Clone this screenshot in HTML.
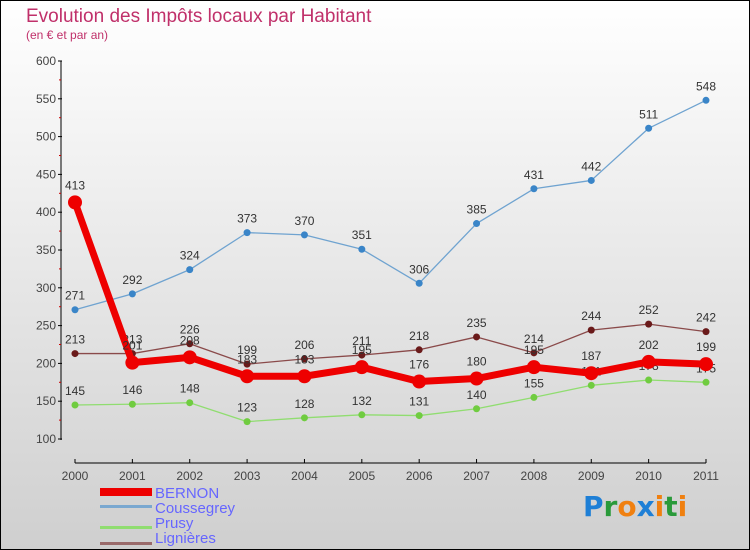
<!DOCTYPE html>
<html><head><meta charset="utf-8"><style>
body{margin:0}
svg{display:block;font-family:"Liberation Sans",sans-serif}
</style></head><body>
<svg id="c" width="750" height="550" xmlns="http://www.w3.org/2000/svg">
<defs><linearGradient id="bg" x1="0" y1="0" x2="0" y2="1"><stop offset="0" stop-color="#ffffff"/><stop offset="1" stop-color="#cfcfcf"/></linearGradient></defs>
<rect x="0.5" y="0.5" width="749" height="549" fill="url(#bg)" stroke="#000"/>
<text x="26" y="22" font-size="19" fill="#c0306a">Evolution des Impôts locaux par Habitant</text>
<text x="26" y="39" font-size="12" fill="#c0306a">(en € et par an)</text>
<g id="axes"></g>
<g id="series"></g>
<g>
<rect x="100" y="488" width="52" height="8" fill="#e00"/>
<text x="155" y="498" font-size="15" fill="#6666ff">BERNON</text>
<rect x="100" y="505" width="52" height="3" fill="#7aa8d0"/>
<text x="155" y="513" font-size="15" fill="#6666ff">Coussegrey</text>
<rect x="100" y="526" width="52" height="3" fill="#90dd70"/>
<text x="155" y="528" font-size="15" fill="#6666ff">Prusy</text>
<rect x="100" y="542" width="52" height="3" fill="#9a6a6a"/>
<text x="155" y="543" font-size="15" fill="#6666ff">Lignières</text>
</g>
<g font-size="28" font-weight="bold" font-family="'DejaVu Sans',sans-serif">
<text x="583" y="516"><tspan fill="#1e7fd6">P</tspan><tspan fill="#2a9a3a">r</tspan><tspan fill="#f08010">o</tspan><tspan fill="#1e7fd6">x</tspan><tspan fill="#f08010">i</tspan><tspan fill="#2a9a3a">t</tspan><tspan fill="#f08010">i</tspan></text>
</g>
</svg>
<script>
const years=["2000","2001","2002","2003","2004","2005","2006","2007","2008","2009","2010","2011"];
const yTicks=[100,150,200,250,300,350,400,450,500,550,600];
const bernon=[413,201,208,183,183,195,176,180,195,187,202,199];
const coussegrey=[271,292,324,373,370,351,306,385,431,442,511,548];
const prusy=[145,146,148,123,128,132,131,140,155,171,178,175];
const lignieres=[213,213,226,199,206,211,218,235,214,244,252,242];
const NS="http://www.w3.org/2000/svg";
function xS(i){return 75+i*(706-75)/11;}
function yS(v){return 439-(v-100)*(439-61)/500;}
function mk(t,a,p){const e=document.createElementNS(NS,t);for(const k in a)e.setAttribute(k,a[k]);p.appendChild(e);return e;}
const ax=document.getElementById('axes');
let l=mk('line',{x1:61,y1:61,x2:61,y2:440,stroke:'#000','stroke-width':1},ax);


yTicks.forEach(v=>{
  mk('line',{x1:58,y1:yS(v),x2:62,y2:yS(v),stroke:'#000'},ax);
  const t=mk('text',{x:56,y:yS(v)+4,'font-size':12,fill:'#444','text-anchor':'end'},ax);
  t.textContent=v;
  
  
  if(v<600) mk('line',{x1:59,y1:yS(v+25),x2:61,y2:yS(v+25),stroke:'#c00'},ax);
});
l=mk('line',{x1:75,y1:463,x2:706,y2:463,stroke:'#000','stroke-width':1},ax);


years.forEach((y,i)=>{
  mk('line',{x1:xS(i),y1:459,x2:xS(i),y2:463,stroke:'#000'},ax);
  const t=mk('text',{x:xS(i),y:480,'font-size':12,fill:'#444','text-anchor':'middle'},ax);
  t.textContent=y;
  
  
});
const sg=document.getElementById('series');
function draw(name,vals,color,dot,w,r,labOff){
  const g=mk('g',{},sg);
  
  
  const p=mk('polyline',{points:vals.map((v,i)=>xS(i)+','+yS(v)).join(' '),fill:'none',stroke:color,'stroke-width':w,'stroke-linejoin':'round'},g);
  
  
  vals.forEach((v,i)=>{
    const c=mk('circle',{cx:xS(i),cy:yS(v),r:r,fill:dot},g);
    
    
    const t=mk('text',{x:xS(i),y:yS(v)+labOff,'font-size':12,fill:'#333','text-anchor':'middle'},g);
    t.textContent=v;
    
    
  });
}
draw('prusy',prusy,'#90dd70','#70cc40',1.3,3.5,-10);
draw('lignieres',lignieres,'#8a4a4a','#6a1a1a',1.3,3.5,-10);
draw('coussegrey',coussegrey,'#6fa3d0','#3a85c8',1.3,3.5,-10);
draw('bernon',bernon,'#ee0000','#ee0000',7,7,-13);
</script>
</body></html>
